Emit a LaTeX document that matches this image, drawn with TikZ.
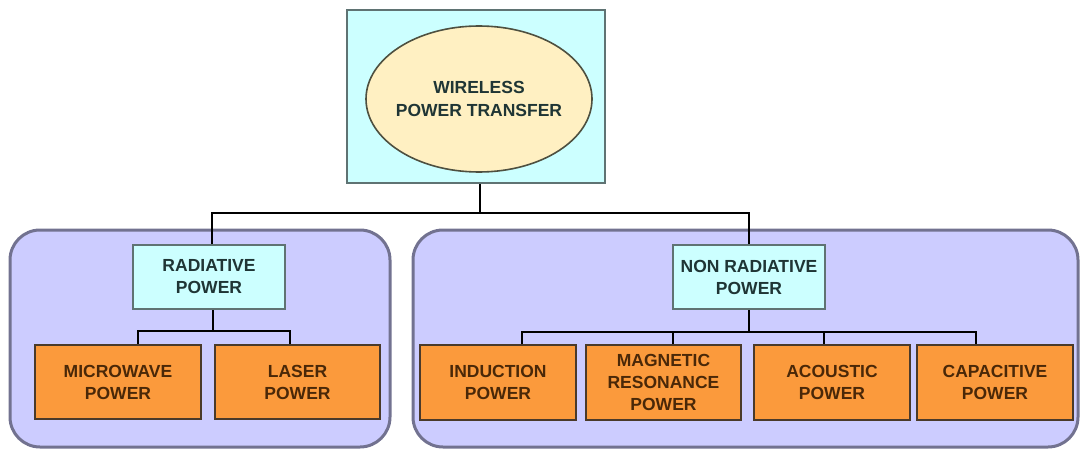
\documentclass[tikz,border=0pt]{standalone}
\usepackage{fontspec}
\setmainfont{Liberation Sans}
\usetikzlibrary{shapes.geometric}
\definecolor{panelfill}{HTML}{CCCCFF}
\definecolor{paneldraw}{HTML}{727290}
\definecolor{cyanfill}{HTML}{CCFFFF}
\definecolor{cyandraw}{HTML}{5F7373}
\definecolor{ellfill}{HTML}{FFF0C2}
\definecolor{elldraw}{HTML}{4E5040}
\definecolor{orfill}{HTML}{FB9A3C}
\definecolor{ordraw}{HTML}{4A3A2A}
\definecolor{ortext}{HTML}{4A2808}
\definecolor{cytext}{HTML}{1F3535}
\tikzset{
  panel/.style={draw=paneldraw, fill=panelfill, line width=3pt, rounded corners=30pt},
  cybox/.style={draw=cyandraw, fill=cyanfill, line width=2pt, minimum width=152pt, minimum height=64pt, inner sep=0pt, align=center, text=cytext, font=\bfseries\fontsize{17.5}{22}\selectfont},
  orbox/.style={draw=ordraw, fill=orfill, line width=2pt, minimum width=156pt, minimum height=75pt, inner sep=0pt, align=center, text=ortext, font=\bfseries\fontsize{17.5}{22}\selectfont},
  conn/.style={draw=black, line width=2.6pt},
}
\begin{document}
\begin{tikzpicture}[x=1pt,y=-1pt]
\useasboundingbox (0,0) rectangle (1081,449);
% panels
\draw[panel] (10,230) rectangle (390,447);
\draw[panel] (413,230) rectangle (1078,447);
% top
\node[draw=cyandraw, fill=cyanfill, line width=2pt, minimum width=258pt, minimum height=173pt, inner sep=0pt] (top) at (476,96.5) {};
\node[ellipse, draw=elldraw, fill=ellfill, line width=1.6pt, minimum width=226pt, minimum height=146pt, inner xsep=-6pt, inner ysep=0pt, align=center, text=cytext, font=\bfseries\fontsize{17.5}{23}\selectfont] (wpt) at (479,99) {WIRELESS\\POWER TRANSFER};
% level 2
\node[cybox] (rad) at (209,277) {RADIATIVE\\POWER};
\node[cybox] (nonrad) at (749,277) {NON RADIATIVE\\POWER};
% level 3
\node[orbox, minimum width=166pt, minimum height=74pt] (micro) at (118,382) {MICROWAVE\\POWER};
\node[orbox, minimum width=165pt, minimum height=74pt] (laser) at (297.5,382) {LASER\\POWER};
\node[orbox] (ind) at (498,382.5) {INDUCTION\\POWER};
\node[orbox, minimum width=155pt] (mag) at (663.5,382.5) {MAGNETIC\\RESONANCE\\POWER};
\node[orbox] (aco) at (832,382.5) {ACOUSTIC\\POWER};
\node[orbox] (cap) at (995,382.5) {CAPACITIVE\\POWER};
% connectors
\coordinate (j) at (480,213);
\coordinate (lj) at (213,331);
\coordinate (rj) at (749,332);
\draw[conn] (top.south -| j) -- (j);
\draw[conn] ([xshift=3pt]rad.north) |- (j) -| (nonrad.north);
\draw[conn] ([xshift=4pt]rad.south) -- (lj);
\draw[conn] ([xshift=20pt]micro.north) |- (lj) -| ([xshift=-7.5pt]laser.north);
\draw[conn] (nonrad.south) -- (rj);
\draw[conn] ([xshift=24pt]ind.north) |- (rj) -| ([xshift=-19pt]cap.north);
\draw[conn] ([xshift=9.5pt]mag.north) -- ([xshift=9.5pt]mag.north |- rj);
\draw[conn] ([xshift=-8pt]aco.north) -- ([xshift=-8pt]aco.north |- rj);
\end{tikzpicture}
\end{document}
